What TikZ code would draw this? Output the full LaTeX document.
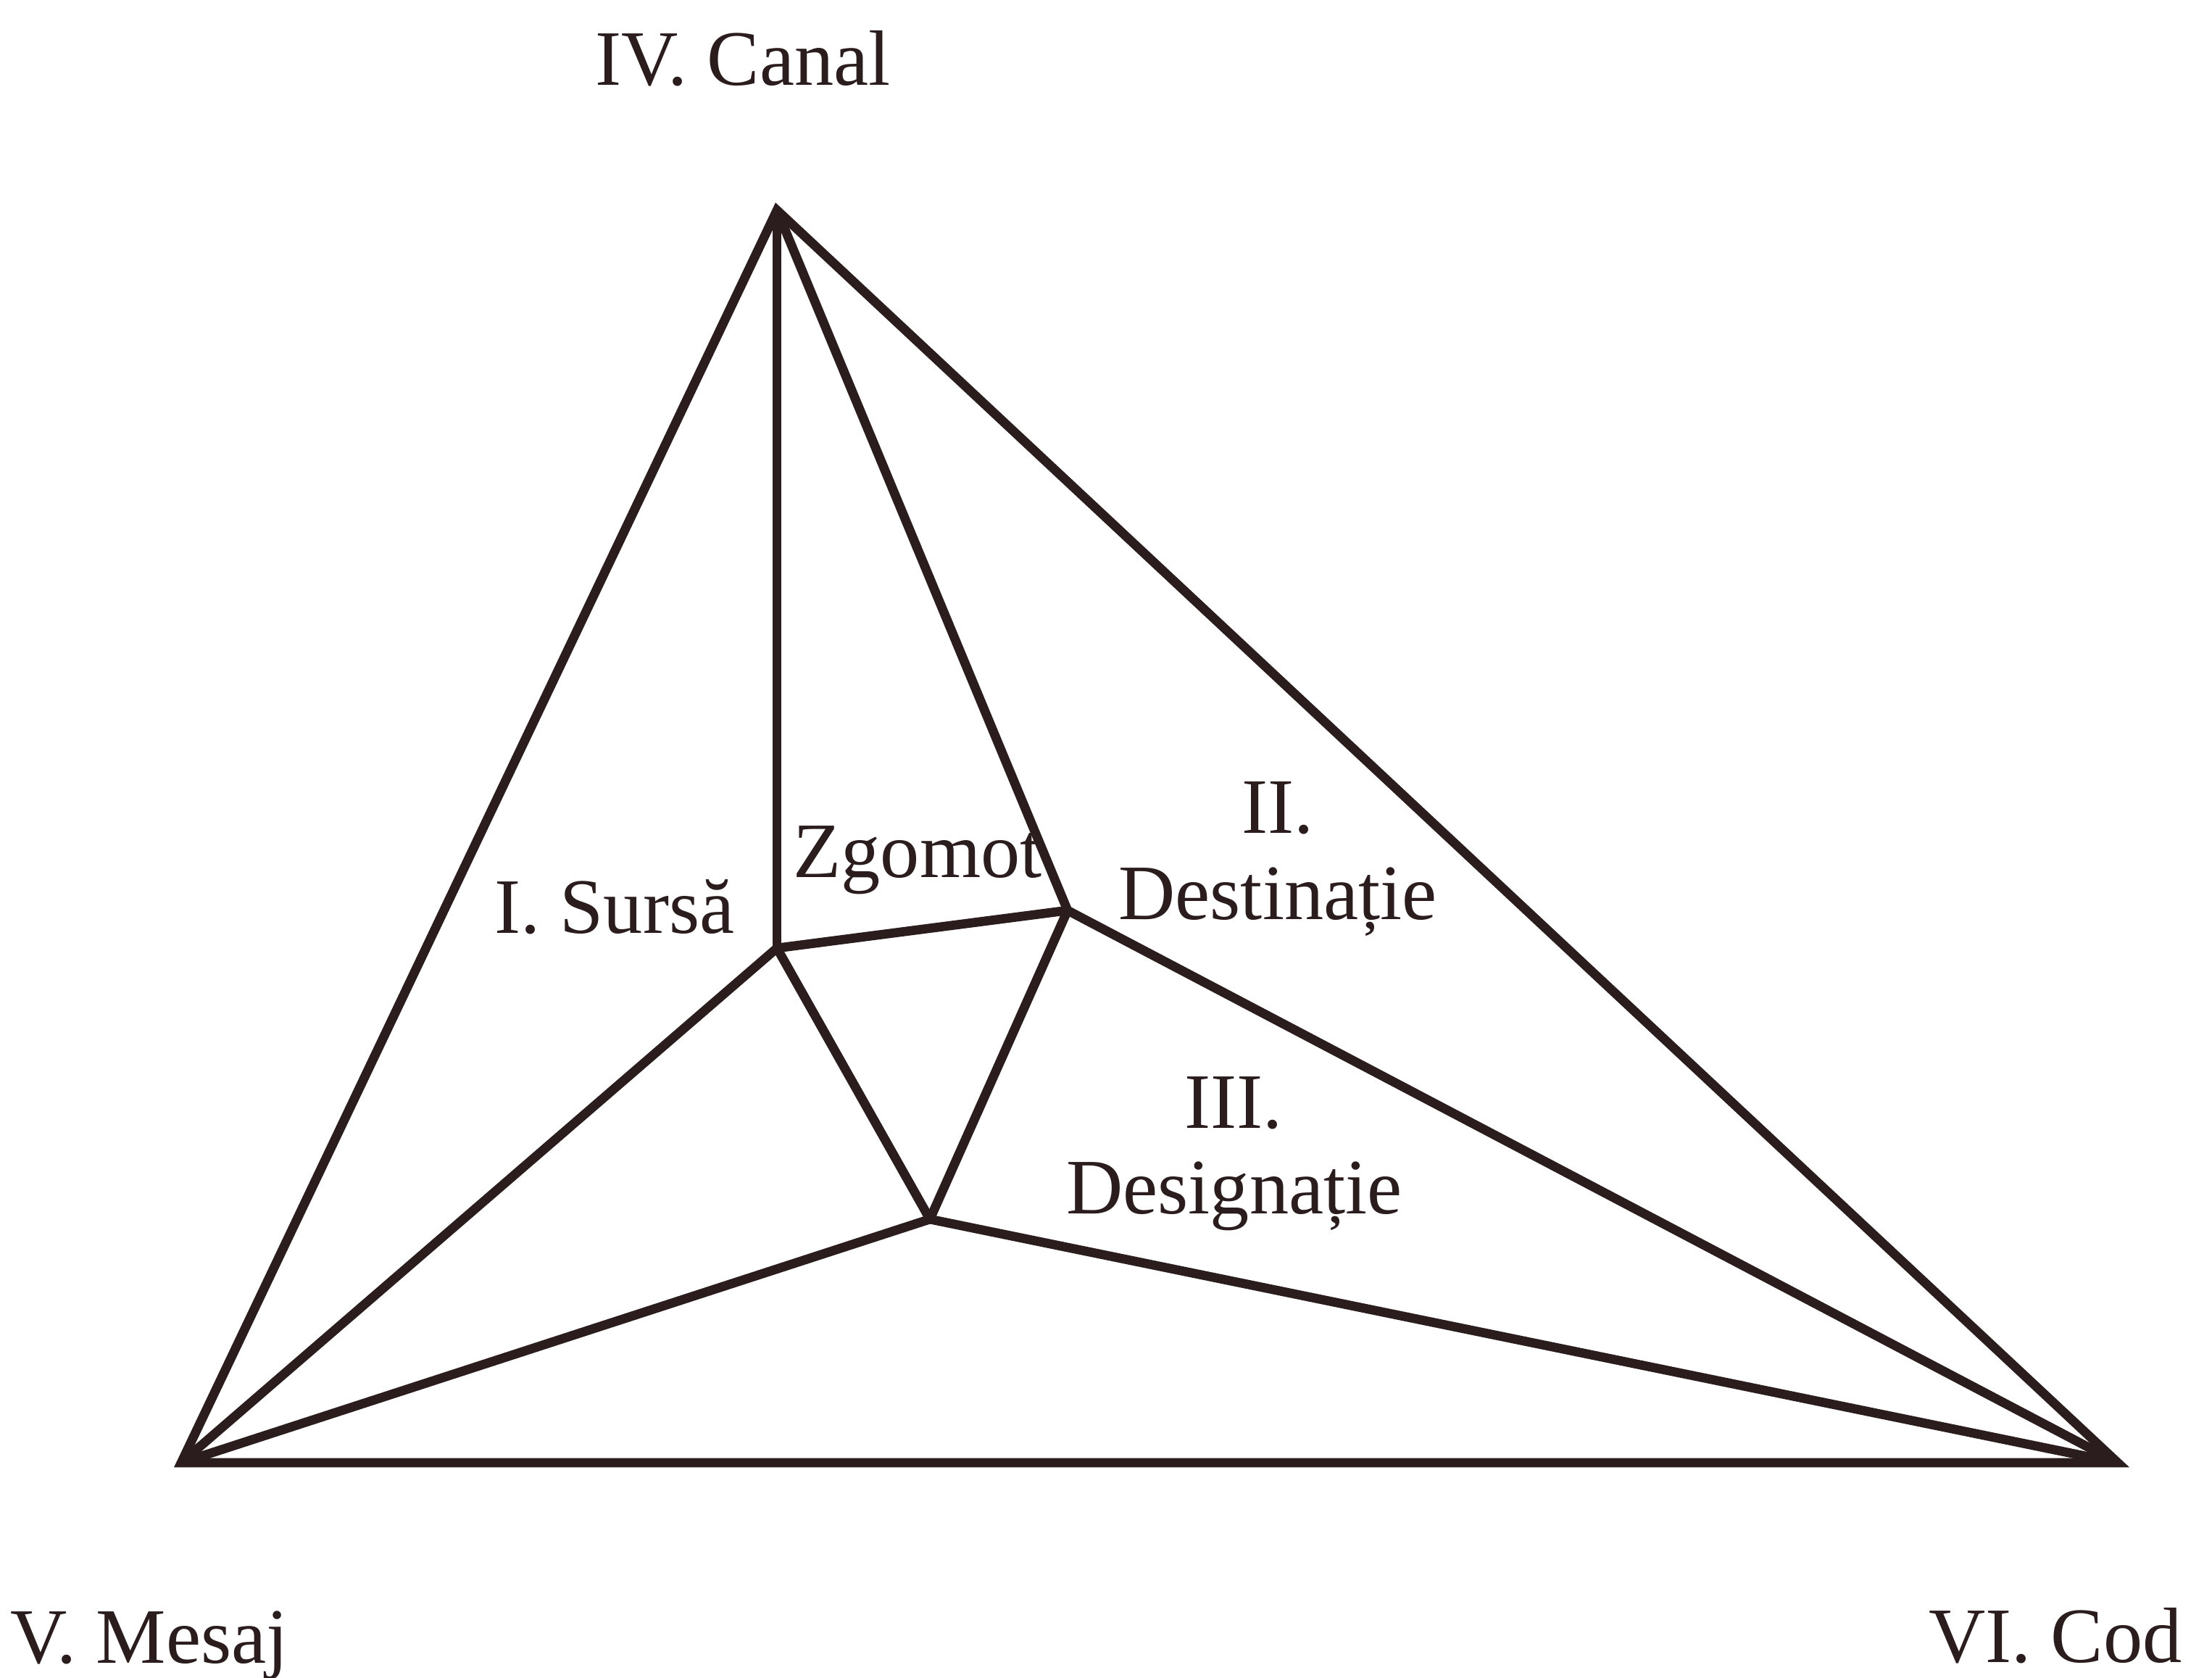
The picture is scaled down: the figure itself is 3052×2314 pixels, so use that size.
\documentclass[tikz,border=0pt]{standalone}
\usepackage{fontspec}
\setmainfont{Liberation Serif}
\definecolor{ink}{HTML}{2B1D1D}
\begin{document}
\begin{tikzpicture}[x=0.01cm, y=-0.01cm,
  edge/.style={draw=ink, line width=3.6pt, line cap=butt},
  outer/.style={draw=ink, line width=3.6pt, line join=miter},
  lbl/.style={text=ink, inner sep=0pt, anchor=base, font=\fontsize{30.8}{35}\selectfont}]
\useasboundingbox[fill=white] (0,0) rectangle (3052,2314);
% vertices
\coordinate (A)  at (1072, 290);
\coordinate (BL) at (250, 2018);
\coordinate (BR) at (2922, 2018);
\coordinate (P1) at (1072, 1308);
\coordinate (P2) at (1473, 1256);
\coordinate (P3) at (1283, 1682);
% outer triangle
\draw[outer] (A) -- (BR) -- (BL) -- cycle;
% inner edges
\draw[edge] (A) -- (P1);
\draw[edge] (A) -- (P2);
\draw[edge] (P1) -- (P2);
\draw[edge] (P1) -- (P3);
\draw[edge] (P2) -- (P3);
\draw[edge] (P1) -- (BL);
\draw[edge] (P3) -- (BL);
\draw[edge] (P3) -- (BR);
\draw[edge] (P2) -- (BR);
% labels
\node[lbl] (canal) at (1025, 117) {IV. Canal};
\node[lbl] (zgomot) at (1266, 1210) {Zgomot};
\node[lbl] (sursa) at (848, 1287) {I. Sursă};
\node[lbl] (dest1) at (1763, 1149) {II.};
\node[lbl] (dest2) at (1763, 1268) {Destinație};
\node[lbl] (desg1) at (1702, 1556) {III.};
\node[lbl] (desg2) at (1703, 1674) {Designație};
\node[lbl] (mesaj) at (206, 2294) {V. Mesaj};
\node[lbl] (cod) at (2836, 2293) {VI. Cod};
\end{tikzpicture}
\end{document}
